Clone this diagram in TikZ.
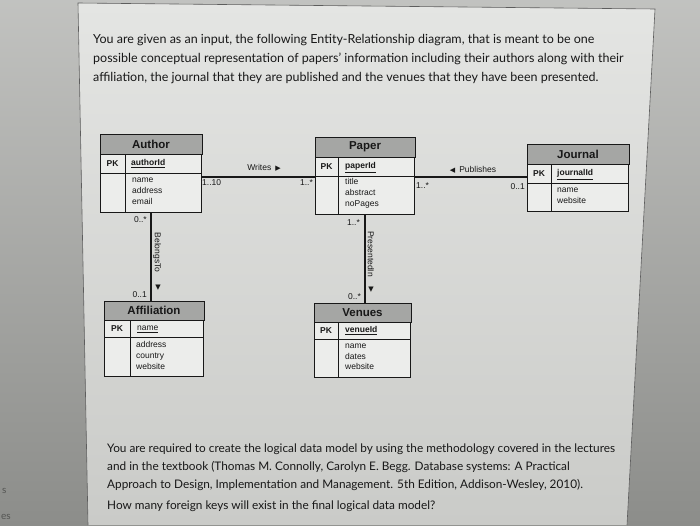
\documentclass[tikz,border=0pt]{standalone}
\usepackage{fontspec}
\setmainfont{Lato}
\newfontfamily\erfont{Liberation Sans}
\newfontfamily\symfont{DejaVu Sans}
\usetikzlibrary{calc, positioning}
\definecolor{DeskGrey}{RGB}{178,179,176}
\definecolor{DeskDark}{RGB}{140,141,138}
\definecolor{PageTop}{RGB}{228,229,227}
\definecolor{PageBottom}{RGB}{202,203,200}
\definecolor{HeadGrey}{RGB}{165,166,164}
\definecolor{BoxWhite}{RGB}{236,237,235}
\definecolor{InkBlack}{RGB}{24,24,24}
\definecolor{TextGrey}{RGB}{24,24,24}

\tikzset{
  entbox/.style={draw=InkBlack, line width=1pt, fill=BoxWhite, inner sep=0pt, anchor=north west},
  pkrow/.style={draw=InkBlack, line width=0.8pt, inner sep=0pt, anchor=north west},
  headfill/.style={draw=InkBlack, line width=1pt, fill=HeadGrey},
  divider/.style={draw=InkBlack, line width=0.8pt},
  headtxt/.style={font=\erfont\bfseries\fontsize{11.5}{13}\selectfont, text=InkBlack, inner sep=0pt},
  pktxt/.style={font=\erfont\bfseries\fontsize{8.5}{10}\selectfont, text=InkBlack, inner sep=0pt},
  attrtxt/.style={font=\erfont\fontsize{8.5}{10}\selectfont, text=InkBlack, anchor=west, inner sep=0pt, text height=6.3pt, text depth=1.8pt},
  keytxt/.style={attrtxt, font=\erfont\bfseries\fontsize{8.5}{10}\selectfont},
  multtxt/.style={font=\erfont\fontsize{8.5}{10}\selectfont, text=InkBlack, inner sep=0pt, text height=6.3pt, text depth=1.8pt},
  reltxt/.style={font=\erfont\fontsize{8.5}{10}\selectfont, text=InkBlack, inner sep=0pt},
  rel/.style={draw=InkBlack, line width=1.5pt},
  para/.style={font=\fontsize{12.5}{15}\selectfont, text=TextGrey, anchor=west, inner sep=0pt},
  task/.style={para, font=\fontsize{11.8}{14}\selectfont},
  edgetxt/.style={font=\fontsize{10}{12}\selectfont, text=DeskDark!60!black, anchor=west, inner sep=0pt},
}

\begin{document}
\begin{tikzpicture}[x=1pt, y=-1pt]
    \useasboundingbox (0,0) rectangle (700,525);

    % desk and page
    \shade[top color=DeskGrey!80!white, bottom color=DeskDark] (0,0) rectangle (700,525);
    \shade[top color=PageTop, bottom color=PageBottom] (78,3) -- (655,9) -- (627,525) -- (88,525) -- cycle;
    \draw[InkBlack!70, line width=0.6pt] (88,525) -- (78,3) -- (655,9) -- (627,525);
    \node[edgetxt] (cuts) at (2,491) {s};
    \node[edgetxt] (cutes) at (1,517) {es};

    % question text, top
    \node[para] (intro1) at (93,40) {You are given as an input, the following Entity-Relationship diagram, that is meant to be one};
    \node[para] (intro2) at (93,59) {possible conceptual representation of papers' information including their authors along with their};
    \node[para] (intro3) at (93,78) {affiliation, the journal that they are published and the venues that they have been presented.};

    % Author
    \node[entbox, minimum width=101pt, minimum height=78pt] (author) at (100,134) {};
    \filldraw[headfill] (author.north west) rectangle ($(author.north east)+(0,20)$);
    \node[pkrow, minimum width=101pt, minimum height=19pt] (authorpk) at (100,154) {};
    \draw[divider] (125,154) -- (125,212);
    \node[headtxt] (authortitle) at ($(author.north)+(0,10)$) {Author};
    \node[pktxt] (authorpkl) at (112.5,163.5) {PK};
    \node[keytxt] (authorid) at (131,163.5) {\underline{authorId}};
    \node[attrtxt] (authorname) at (132,180) {name};
    \node[attrtxt] (authoraddr) at (132,191) {address};
    \node[attrtxt] (authormail) at (132,202) {email};

    % Paper
    \node[entbox, minimum width=99pt, minimum height=77pt] (paper) at (315,137) {};
    \filldraw[headfill] (paper.north west) rectangle ($(paper.north east)+(0,20)$);
    \node[pkrow, minimum width=99pt, minimum height=19pt] (paperpk) at (315,157) {};
    \draw[divider] (338,157) -- (338,214);
    \node[headtxt] (papertitle) at ($(paper.north)+(0,10)$) {Paper};
    \node[pktxt] (paperpkl) at (326.5,166.5) {PK};
    \node[keytxt] (paperid) at (345,166.5) {\underline{paperId}};
    \node[attrtxt] (papertit) at (345,182) {title};
    \node[attrtxt] (paperabs) at (345,193) {abstract};
    \node[attrtxt] (paperpag) at (345,204) {noPages};

    % Journal
    \node[entbox, minimum width=101pt, minimum height=67pt] (journal) at (527,144) {};
    \filldraw[headfill] (journal.north west) rectangle ($(journal.north east)+(0,20)$);
    \node[pkrow, minimum width=101pt, minimum height=19pt] (journalpk) at (527,164) {};
    \draw[divider] (551,164) -- (551,211);
    \node[headtxt] (journaltitle) at ($(journal.north)+(0,10)$) {Journal};
    \node[pktxt] (journalpkl) at (539,173.5) {PK};
    \node[keytxt] (journalid) at (557,173.5) {\underline{journalId}};
    \node[attrtxt] (journalname) at (557,190) {name};
    \node[attrtxt] (journalweb) at (557,201) {website};

    % Affiliation
    \node[entbox, minimum width=99pt, minimum height=75pt] (affil) at (104,301) {};
    \filldraw[headfill] (affil.north west) rectangle ($(affil.north east)+(0,19)$);
    \node[pkrow, minimum width=99pt, minimum height=17pt] (affilpk) at (104,320) {};
    \draw[divider] (130,320) -- (130,376);
    \node[headtxt] (affiltitle) at ($(affil.north)+(0,9.5)$) {Affiliation};
    \node[pktxt] (affilpkl) at (117,328.5) {PK};
    \node[keytxt, font=\erfont\fontsize{8.5}{10}\selectfont] (affilname) at (137,328.5) {\underline{name}};
    \node[attrtxt] (affiladdr) at (136,345) {address};
    \node[attrtxt] (affilctry) at (136,356) {country};
    \node[attrtxt] (affilweb) at (136,367) {website};

    % Venues
    \node[entbox, minimum width=96pt, minimum height=74pt] (venues) at (314,303) {};
    \filldraw[headfill] (venues.north west) rectangle ($(venues.north east)+(0,19)$);
    \node[pkrow, minimum width=96pt, minimum height=17pt] (venuespk) at (314,322) {};
    \draw[divider] (338,322) -- (338,377);
    \node[headtxt] (venuestitle) at ($(venues.north)+(0,9.5)$) {Venues};
    \node[pktxt] (venuespkl) at (326,330.5) {PK};
    \node[keytxt] (venueid) at (345,330.5) {\underline{venueId}};
    \node[attrtxt] (venuesname) at (345,346) {name};
    \node[attrtxt] (venuesdate) at (345,357) {dates};
    \node[attrtxt] (venuesweb) at (345,367) {website};

    % Writes
    \draw[rel] (author.east |- paperpk.south) -- (paperpk.south west);
    \node[reltxt] (writes) at (264,168) {Writes\hspace{4pt}{\symfont\fontsize{7}{8}\selectfont ▶}};
    \node[multtxt, anchor=west] (writesa) at (202,183) {1..10};
    \node[multtxt, anchor=east] (writesp) at (313,183) {1..*};

    % Publishes
    \draw[rel] (paperpk.south east) -- (paperpk.south east -| journal.west);
    \node[reltxt] (publishes) at (473,170) {{\symfont\fontsize{7}{8}\selectfont ◀}\hspace{4pt}Publishes};
    \node[multtxt, anchor=west] (publp) at (416,186) {1..*};
    \node[multtxt, anchor=east] (publj) at (525,187) {0..1};

    % BelongsTo
    \draw[rel] (author.south) -- (author.south |- affil.north);
    \node[reltxt, rotate=-90] (belongs) at (157,252.5) {BelongsTo};
    \node[reltxt] (belongsarr) at (158,288) {\symfont\fontsize{7}{8}\selectfont ▼};
    \node[multtxt, anchor=east] (belonga) at (147,220) {0..*};
    \node[multtxt, anchor=east] (belongf) at (147,295) {0..1};

    % PresentedIn
    \draw[rel] (paper.south) -- (paper.south |- venues.north);
    \node[reltxt, rotate=-90] (presented) at (371,254) {PresentedIn};
    \node[reltxt] (presentedarr) at (371,290) {\symfont\fontsize{7}{8}\selectfont ▼};
    \node[multtxt, anchor=east] (presp) at (360,223) {1..*};
    \node[multtxt, anchor=east] (presv) at (361,297) {0..*};

    % question text, bottom
    \node[task] (task1) at (107,449) {You are required to create the logical data model by using the methodology covered in the lectures};
    \node[task] (task2) at (107,467) {and in the textbook (Thomas M. Connolly, Carolyn E. Begg. Database systems: A Practical};
    \node[task] (task3) at (107,485) {Approach to Design, Implementation and Management. 5th Edition, Addison-Wesley, 2010).};
    \node[task] (task4) at (107,506) {How many foreign keys will exist in the final logical data model?};
\end{tikzpicture}
\end{document}
